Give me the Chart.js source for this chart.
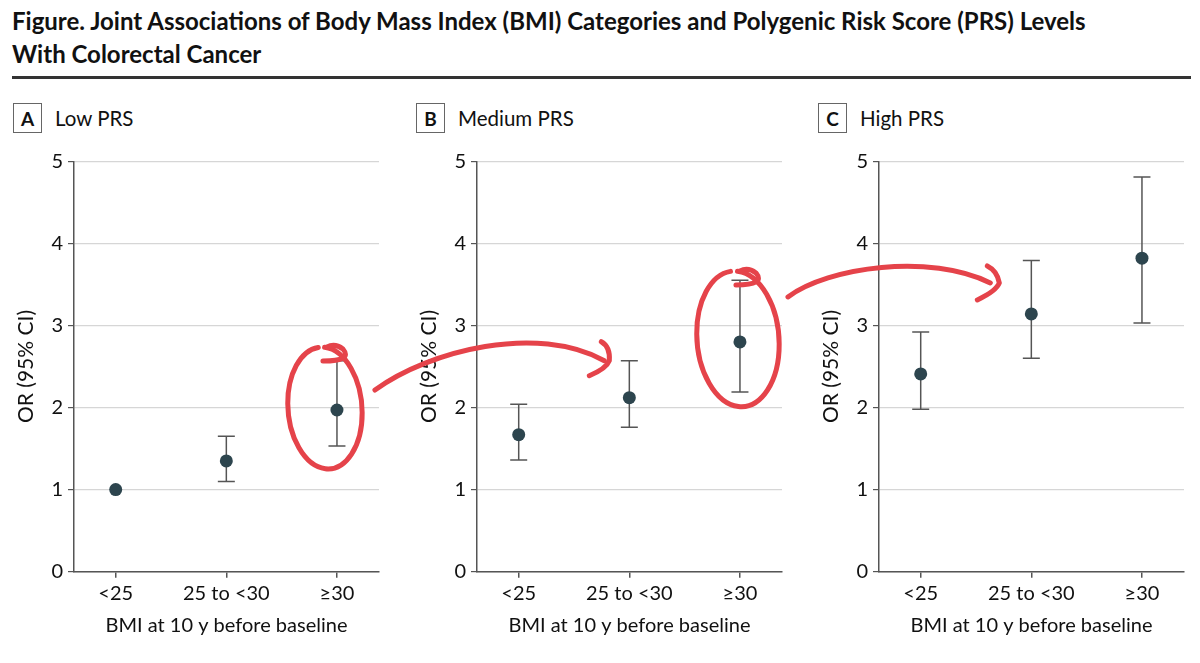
<!DOCTYPE html>
<html lang="en">
<head>
    <meta charset="UTF-8">
    <title>Joint Associations of BMI Categories and PRS Levels With Colorectal Cancer</title>
    <script src="https://cdn.jsdelivr.net/npm/chart.js"></script>
    <style>
        html, body {
            margin: 0;
            padding: 0;
            width: 1200px;
            height: 663px;
            overflow: hidden;
            background: #ffffff;
            font-family: Lato, "Open Sans", sans-serif;
            color: #111;
        }

        .fig-title {
            position: absolute;
            left: 12px;
            top: 3.5px;
            font-size: 24px;
            line-height: 33px;
            font-weight: 700;
            white-space: nowrap;
        }

        .fig-rule {
            position: absolute;
            left: 12px;
            top: 76px;
            width: 1179px;
            height: 2.5px;
            background: #333;
        }

        .panel-head {
            position: absolute;
            top: 103px;
            height: 30px;
            display: flex;
            align-items: center;
            font-size: 20.5px;
        }

        .panel-head .letter {
            box-sizing: border-box;
            width: 29px;
            height: 30px;
            border: 1.5px solid #666;
            font-weight: 700;
            font-size: 19px;
            display: flex;
            align-items: center;
            justify-content: center;
            margin-right: 13px;
        }

        .panel {
            position: absolute;
            top: 140px;
            width: 395px;
            height: 523px;
        }

        #marks {
            position: absolute;
            left: 0;
            top: 0;
            pointer-events: none;
        }
    </style>
</head>
<body>
    <div class="fig-title">Figure. Joint Associations of Body Mass Index (BMI) Categories and Polygenic Risk Score (PRS) Levels<br>With Colorectal Cancer</div>
    <div class="fig-rule"></div>

    <div class="panel-head" style="left:13px"><span class="letter">A</span>Low PRS</div>
    <div class="panel-head" style="left:416px"><span class="letter">B</span>Medium PRS</div>
    <div class="panel-head" style="left:818px"><span class="letter">C</span>High PRS</div>

    <div class="panel" style="left:0px"><canvas id="chartLow"></canvas></div>
    <div class="panel" style="left:402.7px"><canvas id="chartMedium"></canvas></div>
    <div class="panel" style="left:805px"><canvas id="chartHigh"></canvas></div>

    <canvas id="marks" width="1200" height="663"></canvas>

    <script>
        // BMI categories (x axis)
        const categories = ["<25", "25 to <30", "≥30"];

        // odds ratios with 95% CI
        const lowOR = [1.00, 1.35, 1.97];
        const lowLower = [null, 1.10, 1.53];
        const lowUpper = [null, 1.65, 2.57];

        const mediumOR = [1.67, 2.12, 2.80];
        const mediumLower = [1.36, 1.76, 2.19];
        const mediumUpper = [2.04, 2.57, 3.55];

        const highOR = [2.41, 3.14, 3.82];
        const highLower = [1.98, 2.60, 3.03];
        const highUpper = [2.92, 3.79, 4.81];

        const yTicks = [0, 1, 2, 3, 4, 5];

        const FONT = "Lato, 'Open Sans', sans-serif";
        const TEXT = "#111111";
        const AXIS = "#555555";
        const DOT = "#2d454e";

        function makeChart(id, or, lower, upper) {
            const dots = or.map((v, i) => ({ x: i, y: v }));
            const caps = [];
            const bars = [];
            or.forEach((v, i) => {
                if (lower[i] == null) return;
                caps.push({ x: i, y: lower[i] }, { x: i, y: upper[i] });
                bars.push({ x: i, y: lower[i] }, { x: i, y: upper[i] }, { x: i, y: null });
            });

            return new Chart(document.getElementById(id), {
                type: "scatter",
                data: {
                    datasets: [
                        {
                            label: "OR",
                            data: dots,
                            pointRadius: 6.5,
                            pointBackgroundColor: DOT,
                            pointBorderWidth: 0
                        },
                        {
                            label: "CI caps",
                            data: caps,
                            pointStyle: "line",
                            pointRadius: 8.5,
                            pointBorderColor: AXIS,
                            pointBorderWidth: 1.5
                        },
                        {
                            label: "95% CI",
                            data: bars,
                            showLine: true,
                            spanGaps: false,
                            borderColor: AXIS,
                            borderWidth: 1.5,
                            pointRadius: 0
                        }
                    ]
                },
                options: {
                    responsive: true,
                    maintainAspectRatio: false,
                    animation: false,
                    events: [],
                    layout: { padding: { top: 21.3, right: 16, bottom: 0, left: 0 } },
                    plugins: {
                        legend: { display: false },
                        tooltip: { enabled: false }
                    },
                    scales: {
                        x: {
                            type: "linear",
                            min: -0.377,
                            max: 2.38,
                            afterBuildTicks: s => { s.ticks = categories.map((c, i) => ({ value: i })); },
                            afterFit: s => { s.height = 91.3; },
                            ticks: {
                                autoSkip: false,
                                maxRotation: 0,
                                padding: 4,
                                color: TEXT,
                                font: { family: FONT, size: 20 },
                                callback: (value, index) => categories[index]
                            },
                            grid: {
                                drawOnChartArea: false,
                                tickColor: AXIS,
                                tickLength: 6,
                                lineWidth: 1.5
                            },
                            border: { color: AXIS, width: 1.5 },
                            title: {
                                display: true,
                                text: "BMI at 10 y before baseline",
                                color: TEXT,
                                font: { family: FONT, size: 20 },
                                padding: { top: 0, bottom: 25 }
                            }
                        },
                        y: {
                            min: 0,
                            max: 5,
                            afterBuildTicks: s => { s.ticks = yTicks.map(v => ({ value: v })); },
                            afterFit: s => { s.width = 74; },
                            ticks: {
                                padding: 5,
                                color: TEXT,
                                font: { family: FONT, size: 20 }
                            },
                            grid: {
                                color: "#d6d6d6",
                                lineWidth: 1.2,
                                tickColor: AXIS,
                                tickLength: 6
                            },
                            border: { color: AXIS, width: 1.5 },
                            title: {
                                display: true,
                                text: "OR (95% CI)",
                                color: TEXT,
                                font: { family: FONT, size: 21 },
                                padding: { top: 14.1, bottom: 0 }
                            }
                        }
                    }
                }
            });
        }

        const chartLow = makeChart("chartLow", lowOR, lowLower, lowUpper);
        const chartMedium = makeChart("chartMedium", mediumOR, mediumLower, mediumUpper);
        const chartHigh = makeChart("chartHigh", highOR, highLower, highUpper);

        // page position of a data point in one of the panels
        function pagePoint(chart, i, v) {
            const box = chart.canvas.parentNode;
            return {
                x: box.offsetLeft + chart.scales.x.getPixelForValue(i),
                y: box.offsetTop + chart.scales.y.getPixelForValue(v)
            };
        }

        // red hand-drawn highlights (circles around >=30, arrows to next panel)
        function drawMarks() {
            const ctx = document.getElementById("marks").getContext("2d");
            ctx.strokeStyle = "#e5434a";
            ctx.lineWidth = 5;
            ctx.lineCap = "round";
            ctx.lineJoin = "round";

            const a30 = pagePoint(chartLow, 2, lowOR[2]);
            const b25 = pagePoint(chartMedium, 1, mediumOR[1]);
            const b30 = pagePoint(chartMedium, 2, mediumOR[2]);
            const c25 = pagePoint(chartHigh, 1, highOR[1]);

            function loop(p, dx, dy, rx, ry) {
                const cx = p.x + dx, cy = p.y + dy;
                ctx.beginPath();
                ctx.ellipse(cx, cy, rx, ry, -0.08, -1.45, Math.PI * 1.5 - 0.05, false);
                ctx.stroke();
                // little curl at the top
                ctx.beginPath();
                ctx.moveTo(cx - 2, cy - ry + 14);
                ctx.quadraticCurveTo(cx + 28, cy - ry + 14, cx + 18, cy - ry + 2);
                ctx.quadraticCurveTo(cx + 10, cy - ry - 4, cx + 2, cy - ry);
                ctx.stroke();
            }

            function arrow(s, c1, c2, e, head) {
                ctx.beginPath();
                ctx.moveTo(s.x, s.y);
                ctx.bezierCurveTo(c1.x, c1.y, c2.x, c2.y, e.x, e.y);
                ctx.stroke();
                ctx.beginPath();
                ctx.moveTo(head[0].x, head[0].y);
                ctx.quadraticCurveTo(head[1].x, head[1].y, head[2].x, head[2].y);
                ctx.quadraticCurveTo(head[3].x, head[3].y, head[4].x, head[4].y);
                ctx.stroke();
            }

            loop(a30, -12, -2, 37, 61);
            loop(b30, -2, -3, 41, 68);

            const s1 = { x: a30.x + 38, y: a30.y - 20 };
            const e1 = { x: b25.x - 25, y: b25.y - 37 };
            arrow(s1, { x: s1.x + 55, y: s1.y - 40 }, { x: e1.x - 67, y: e1.y - 37 }, e1, [
                { x: e1.x - 3, y: e1.y - 19 },
                { x: e1.x + 6, y: e1.y - 14 },
                { x: e1.x + 5, y: e1.y },
                { x: e1.x + 2, y: e1.y + 8 },
                { x: e1.x - 15, y: e1.y + 15 }
            ]);

            const s2 = { x: b30.x + 48, y: b30.y - 45 };
            const e2 = { x: c25.x - 41, y: c25.y - 31 };
            arrow(s2, { x: s2.x + 40, y: s2.y - 30 }, { x: e2.x - 60, y: e2.y - 30 }, e2, [
                { x: e2.x - 3, y: e2.y - 17 },
                { x: e2.x + 7, y: e2.y - 12 },
                { x: e2.x + 9, y: e2.y },
                { x: e2.x + 6, y: e2.y + 8 },
                { x: e2.x - 13, y: e2.y + 17 }
            ]);
        }

        drawMarks();
    </script>
</body>
</html>
